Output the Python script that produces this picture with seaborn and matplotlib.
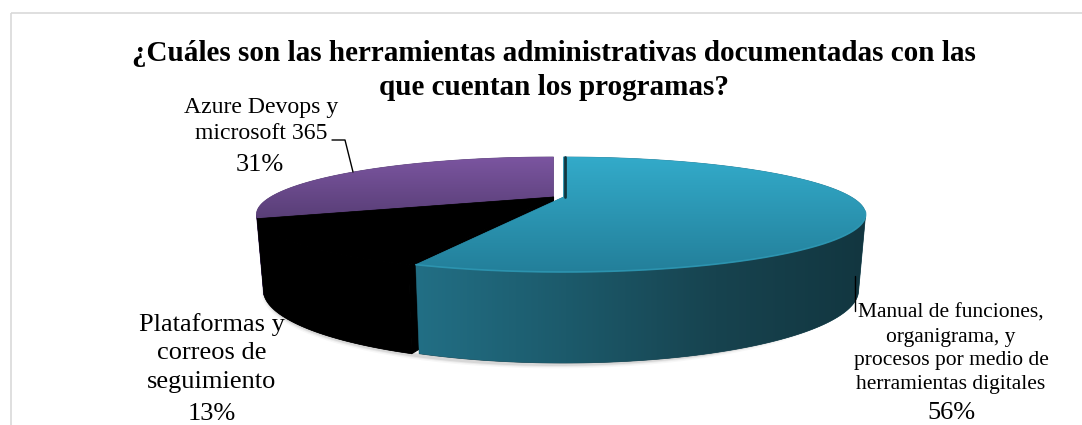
import numpy as np
import matplotlib
matplotlib.use("Agg")
import matplotlib.pyplot as plt
from matplotlib.patches import Polygon, Rectangle
import seaborn as sns

title = "¿Cuáles son las herramientas administrativas documentadas con las\nque cuentan los programas?"
categories = ["Manual de funciones,\norganigrama, y\nprocesos por medio de\nherramientas digitales",
              "Plataformas y\ncorreos de\nseguimiento",
              "Azure Devops y\nmicrosoft 365"]
shares = [56, 13, 31]
explode_px = [10, 0, 0]

sns.set_theme(style="white")
plt.rcParams["font.family"] = ["Liberation Serif", "DejaVu Serif"]

W, H = 1082, 425
fig = plt.figure(figsize=(W / 100, H / 100), dpi=100, facecolor="white")
ax = fig.add_axes([0, 0, 1, 1])
ax.set_xlim(0, W)
ax.set_ylim(H, 0)
ax.axis("off")

# Perspective projection of the unit disc onto the canvas
K = 0.304
CX, CY = 553.5, 197.0
A, B = 283.0, 52.2
DEPTH_Y, BOTTOM_X, BOTTOM_Y = 70.8, 0.977, 1.27


def project(theta, r=1.0, dx=0.0, bottom=False, scale=1.0):
    u, v = r * np.sin(theta), r * np.cos(theta)
    w = 1 + K * v
    a, b = A * scale, B
    x, y = a * u / w, b * v / w
    if bottom:
        return CX + dx + BOTTOM_X * x, CY + DEPTH_Y - BOTTOM_Y * y
    return CX + dx + x, CY - y


def gradient(poly_xy, colors, horizontal=False, zorder=2):
    # A thin solid underlay closes the seams left by the clipped image
    ax.add_patch(Polygon(poly_xy, closed=True, fc=colors[len(colors) // 2],
                         ec=colors[len(colors) // 2], lw=0.5, zorder=zorder))
    cmap = sns.blend_palette(colors, n_colors=256, as_cmap=True)
    ramp = np.linspace(0, 1, 256)
    ramp = ramp[None, :] if horizontal else ramp[:, None]
    xs, ys = poly_xy[:, 0], poly_xy[:, 1]
    im = ax.imshow(ramp, cmap=cmap, aspect="auto", zorder=zorder,
                   extent=(xs.min(), xs.max(), ys.max(), ys.min()),
                   interpolation="bilinear", origin="upper")
    patch = Polygon(poly_xy, closed=True, transform=ax.transData, fc="none", ec="none")
    ax.add_patch(patch)
    im.set_clip_path(patch)


edges = np.cumsum([0] + shares) / sum(shares) * 2 * np.pi
top_colors = [["#33abca", "#237f9a"], ["#000000", "#000000"], ["#7b55a0", "#583e76"]]
side_colors = [["#226f85", "#1c5a6b", "#17434f", "#123640"],
               ["#000000", "#000000"],
               ["#3d2a55", "#3d2a55"]]
scales = [1.017, 1.0, 1.0]

# Soft shadow along the lower rim
rim = np.linspace(edges[0] + np.pi * 0.42, 2 * np.pi - np.pi * 0.40, 300)
sx, sy = project(rim, dx=2, bottom=True)
for lw, alpha in [(6, 0.03), (4, 0.05), (2.5, 0.08)]:
    ax.plot(sx, sy + 1.2, color="black", lw=lw, alpha=alpha, zorder=1, solid_capstyle="round")

draw_order = [2, 1, 0]
for z, i in enumerate(draw_order):
    t0, t1 = edges[i], edges[i + 1]
    dx, sc = explode_px[i], scales[i]
    arc = np.linspace(t0, t1, 240)
    tx, ty = project(arc, dx=dx, scale=sc)
    base = 2 + 3 * z

    # Outer wall: only the part of the rim that faces the viewer
    v = np.cos(arc)
    front = arc[v < -K]
    if front.size:
        ax_top = np.column_stack(project(front, dx=dx, scale=sc))
        ax_bot = np.column_stack(project(front, dx=dx, scale=sc, bottom=True))
        wall = np.vstack([ax_top, ax_bot[::-1]])
        gradient(wall, side_colors[i], horizontal=True, zorder=base)

    # Cut face of the black slice, visible beside the exploded one
    if i == 1:
        ex, ey = project(np.array([t0]))
        bx, by = project(np.array([t0]), bottom=True)
        cut = np.array([[CX, CY], [ex[0], ey[0]], [bx[0], by[0]], [CX, CY + DEPTH_Y]])
        ax.add_patch(Polygon(cut, closed=True, fc="black", ec="black", lw=0.8, zorder=base))

    apex = np.array([[CX + dx, CY]])
    face = np.vstack([apex, np.column_stack([tx, ty])])
    gradient(face, top_colors[i], zorder=base + 1)

# Cut edge of the large slice and bevel highlights on the rims
ax.plot([CX + explode_px[0] + 1.5] * 2, [CY - 40, CY], color="#12363f", lw=2.0, zorder=12)
hl = np.linspace(edges[0] + 0.58 * np.pi, edges[1], 200)
hx, hy = project(hl, dx=explode_px[0], scale=scales[0])
ax.plot(hx, hy, color="#2f9ab6", lw=1.2, alpha=0.8, zorder=12)

# Leader lines
ax.plot([332, 345, 353], [140, 140, 172], color="black", lw=1.0, zorder=13)
ax.plot([855, 855], [276, 311], color="black", lw=1.0, zorder=13)

# Chart frame, open past the right and bottom edges of the canvas
ax.add_patch(Rectangle((10.5, 13), 1100, 430, fc="none", ec="#d9d9d9", lw=1.2, zorder=0))

# Title and labels
ax.text(554, 70.5, title, ha="center", va="center", fontsize=21.0, fontweight="bold",
        linespacing=1.3, color="black", zorder=14)

ax.text(261, 120.5, categories[2], ha="center", va="center", fontsize=17.1, linespacing=1.26,
        color="black", zorder=14)
ax.text(260, 165, f"{shares[2]}%", ha="center", va="center", fontsize=19, color="black", zorder=14)

ax.text(212, 353, categories[1], ha="center", va="center", fontsize=19.0, linespacing=1.4,
        color="black", zorder=14)
ax.text(212, 414, f"{shares[1]}%", ha="center", va="center", fontsize=19, color="black", zorder=14)

ax.text(951, 349, categories[0], ha="center", va="center", fontsize=15.45, linespacing=1.35,
        color="black", zorder=14)
ax.text(951, 413, f"{shares[0]}%", ha="center", va="center", fontsize=19, color="black", zorder=14)

fig.savefig("out.png", dpi=100, facecolor="white")
